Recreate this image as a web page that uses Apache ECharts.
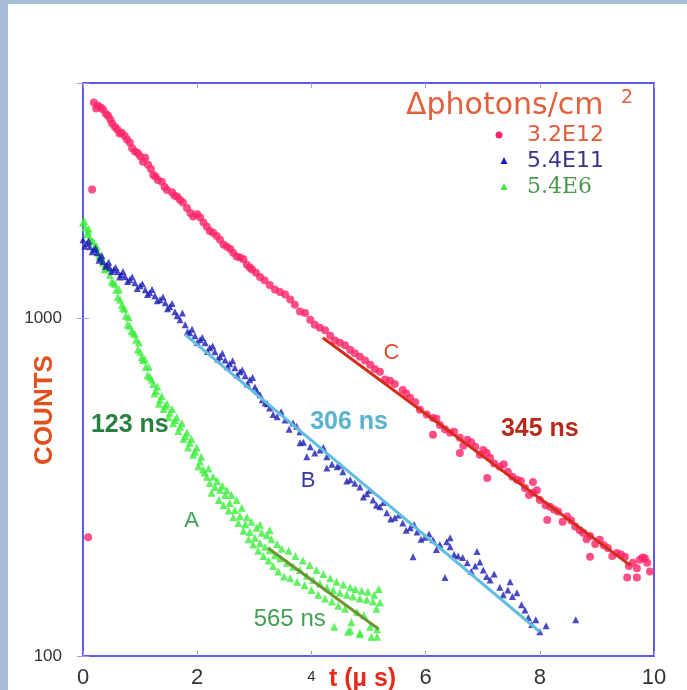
<!DOCTYPE html>
<html><head><meta charset="utf-8">
<script src="https://cdn.jsdelivr.net/npm/echarts@6/dist/echarts.min.js"></script>
<style>
html,body{margin:0;padding:0;background:#a7bcd7;overflow:hidden;}
#c{position:absolute;left:8px;top:4px;width:679px;height:686px;background:#ffffff;}
</style>
</head><body><div id="c"></div>
<script>
// ---- data ----
const xTicks = [0, 2, 4, 6, 8, 10];
const yTickLabels = [100, 1000];
const legendNames = ['3.2E12', '5.4E11', '5.4E6'];
const legendTitle = '\u0394photons/cm';

// series C (3.2E12) : [t, counts]
const seriesC = [
[0.19,4380],[0.26,4290],[0.35,4170],[0.44,4000],[0.51,3790],[0.60,3640],[0.68,3560],[0.77,3400],[0.82,3330],[0.91,3130],
[1.00,3030],[1.09,3000],[1.14,2860],[1.23,2670],[1.31,2580],[1.38,2550],[1.47,2410],[1.56,2370],[1.65,2300],[1.70,2250],
[1.82,2130],[1.93,2010],[2.05,2000],[2.17,1875],[2.28,1800],[2.40,1715],[2.52,1635],[2.63,1570],[2.75,1520],[2.87,1445],
[2.96,1400],[3.10,1330],[3.27,1260],[3.45,1200],[3.63,1140],[3.80,1050],[3.98,993],[4.15,940],[4.33,891],[4.50,849],
[4.68,809],[4.85,771],[5.03,730],[5.20,696],[5.38,655],[5.60,615],[5.73,583],[5.90,537],[6.13,508],[6.25,484],
[6.43,459],[6.60,444],[6.73,438],[6.87,417],[7.01,408],[7.13,387],[7.30,364],[7.44,352],[7.60,333],[7.74,315],
[7.88,305],[8.00,290],[8.18,277],[8.32,268],[8.48,259],[8.62,242],[8.76,232],[8.88,227],[9.05,221],[9.19,209],
[9.35,202],[9.49,197],[9.63,189],[9.75,193],[9.88,189],[9.93,178],
[0.23,4200],[0.31,4230],[0.40,4050],[0.48,3900],[0.56,3700],[0.64,3540],[0.73,3480],[0.86,3200],[0.96,3100],[1.05,2920],
[1.19,2780],[1.27,2640],[1.43,2460],[1.60,2320],[1.75,2210],[1.88,2060],[2.00,2040],[2.11,1930],[2.22,1820],[2.34,1760],
[2.46,1660],[2.58,1610],[2.69,1530],[2.81,1500],[2.92,1420],[3.03,1370],[3.18,1300],[3.36,1220],[3.54,1180],[3.71,1100],
[3.89,1040],[4.06,960],[4.24,925],[4.41,862],[4.59,835],[4.76,790],[4.94,752],[5.11,710],[5.29,660],[5.46,640],
[5.66,600],[5.82,565],[6.02,520],[6.19,505],[6.34,470],[6.50,462],[6.66,420],[6.80,430],[6.95,395],[7.07,400],
[7.20,372],[7.37,370],[7.52,340],[7.67,330],[7.81,300],[7.95,310],[8.10,280],[8.25,272],[8.40,250],[8.55,252],
[8.70,236],[8.82,222],[8.97,215],[9.12,213],[9.27,198],[9.42,200],[9.56,185],[9.70,182],[9.80,196],
[6.13,453],[6.60,400],[7.08,337],[7.88,328],[8.13,253],[8.88,197],[9.53,171],[9.70,171],[9.84,195],
[0.16,2415],[0.09,225]
];

// series B (5.4E11)
const seriesB = [
[0.00,1716],[0.07,1670],[0.12,1636],[0.19,1603],[0.25,1570],[0.30,1517],[0.35,1477],[0.42,1446],[0.47,1417],[0.54,1398],
[0.61,1379],[0.67,1351],[0.74,1332],[0.82,1305],[0.91,1279],[1.00,1253],[1.09,1219],[1.17,1195],[1.26,1170],[1.35,1139],
[1.44,1116],[1.52,1085],[1.61,1049],[1.70,993],[1.79,960],[1.87,909],[1.96,890],[2.05,866],[2.14,849],[2.22,820],
[2.31,798],[2.40,771],[2.49,755],[2.57,735],[2.66,715],[2.75,696],[2.84,677],[2.92,659],[3.01,628],[3.10,595],
[3.19,563],[3.27,544],[3.40,512],[3.54,501],[3.68,491],[3.80,462],[3.80,429],[3.98,417],[4.15,408],[4.27,390],
[4.45,364],[4.55,352],[4.68,333],[4.85,317],[4.97,303],[5.08,290],[5.20,277],[5.32,266],[5.46,257],[5.60,248],
[5.73,240],[5.85,233],[5.99,225],[6.13,221],[6.25,214],[6.43,211],[6.57,198],[6.73,189],[6.87,185],[7.01,180],
[7.13,168],[7.30,160],[7.44,157],[7.60,154],[7.74,137],[7.86,124],[8.00,118],[8.11,123],[8.63,128],
[3.92,390],[4.27,361],[5.78,197],[6.43,224],[6.90,204],[7.48,166],[6.34,171],
[0.03,1640],[0.10,1700],[0.16,1580],[0.22,1620],[0.28,1490],[0.33,1540],[0.39,1430],[0.45,1470],[0.50,1380],[0.57,1420],
[0.64,1330],[0.70,1380],[0.78,1290],[0.86,1330],[0.95,1230],[1.04,1270],[1.13,1180],[1.21,1220],[1.30,1130],[1.40,1160],
[1.48,1070],[1.56,1110],[1.65,1020],[1.74,1040],[1.83,915],[1.91,930],[2.00,850],[2.09,880],[2.18,800],[2.27,830],
[2.36,760],[2.44,790],[2.53,720],[2.62,750],[2.70,680],[2.79,705],[2.88,640],[2.97,670],[3.05,610],[3.14,575],
[3.23,560],[3.33,520],[3.47,530],[3.61,470],[3.74,480],[3.86,430],[4.06,400],[4.21,415],[4.36,370],[4.50,368],
[4.62,330],[4.76,325],[4.91,296],[5.02,310],[5.14,280],[5.26,285],[5.39,255],[5.53,262],[5.66,236],[5.80,245],
[5.92,222],[6.06,230],[6.19,207],[6.37,218],[6.50,200],[6.65,196],[6.80,178],[6.95,190],[7.07,172],[7.20,175],
[7.36,152],[7.52,150],[7.68,142],[7.80,130],[7.93,128]
];

// series A (5.4E6)
const seriesA = [
[0.00,1927],[0.04,1862],[0.09,1813],[0.12,1739],[0.18,1692],[0.21,1636],[0.26,1581],[0.30,1528],[0.35,1466],[0.40,1417],
[0.47,1351],[0.53,1279],[0.58,1219],[0.65,1139],[0.70,1078],[0.75,1021],[0.82,953],[0.88,909],[0.93,866],[1.00,798],
[1.05,755],[1.10,720],[1.17,673],[1.23,641],[1.28,611],[1.35,575],[1.44,552],[1.52,526],[1.61,501],[1.70,478],
[1.79,449],[1.87,429],[1.96,403],[2.05,377],[2.10,357],[2.17,340],[2.22,326],[2.31,317],[2.40,311],[2.49,300],
[2.57,284],[2.66,271],[2.75,260],[2.84,246],[2.92,233],[3.01,224],[3.10,216],[3.19,211],[3.27,206],[3.36,199],
[3.45,195],[3.57,189],[3.68,184],[3.80,180],[3.92,173],[4.03,168],[4.15,164],[4.27,160],[4.38,157],[4.50,154],
[4.62,152],[4.73,150],[4.85,148],[4.97,147],[5.08,145],[5.20,144],
[0.02,1950],[0.07,1780],[0.10,1850],[0.15,1700],[0.24,1640],[0.28,1540],[0.33,1520],[0.38,1400],[0.44,1410],[0.50,1290],
[0.56,1270],[0.61,1160],[0.63,1220],[0.68,1100],[0.73,1070],[0.78,960],[0.80,1010],[0.85,920],[0.91,900],[0.96,810],
[0.98,850],[1.03,770],[1.08,760],[1.13,680],[1.15,720],[1.20,660],[1.25,600],[1.30,630],[1.33,560],[1.38,590],
[1.41,540],[1.47,560],[1.50,510],[1.56,540],[1.58,490],[1.64,510],[1.67,465],[1.73,490],[1.76,440],[1.82,460],
[1.84,415],[1.90,440],[1.93,395],[1.99,415],[2.02,365],[2.07,390],[2.13,350],[2.20,360],[2.25,305],[2.28,340],
[2.35,330],[2.38,290],[2.44,320],[2.46,280],[2.52,310],[2.55,270],[2.60,300],[2.63,258],[2.69,290],[2.72,248],
[2.78,275],[2.81,235],[2.87,258],[2.90,222],[2.95,250],[2.98,214],[3.04,240],[3.07,205],[3.13,232],[3.16,198],
[3.22,228],[3.25,192],[3.30,222],[3.33,185],[3.40,215],[3.42,178],[3.48,208],[3.52,172],[3.60,205],[3.63,170],
[3.72,198],[3.75,166],[3.85,192],[3.88,162],[3.97,186],[4.00,157],[4.09,180],[4.12,152],[4.21,175],[4.24,148],
[4.33,170],[4.36,145],[4.44,166],[4.47,141],[4.56,163],[4.59,138],[4.68,160],[4.70,126],[4.77,158],[4.80,135],
[4.88,156],[4.92,132],[4.99,155],[5.03,122],[5.10,152],[5.14,138],[5.18,158],[4.64,118],[4.85,116],[5.05,114],
[4.40,122],[5.15,120],[4.68,119],[5.15,114],[4.85,117],[3.10,245],[3.27,236]
];

// exponential fit segments
const fitC = [[4.2,878],[9.58,186]];
const fitB = [[1.79,897],[8.0,118]];
const fitA = [[3.24,209],[5.18,120]];

// annotations
const notes = [
  {text:'C', t:5.4, v:790, color:'#e24a32', size:22, weight:'normal'},
  {text:'345 ns', t:8.0, v:470, color:'#b82a1c', size:25, weight:'bold'},
  {text:'306 ns', t:4.66, v:495, color:'#58b2d2', size:25, weight:'bold'},
  {text:'B', t:3.94, v:330, color:'#3a3a9c', size:22, weight:'normal'},
  {text:'123 ns', t:0.82, v:485, color:'#2a8040', size:25, weight:'bold'},
  {text:'A', t:1.9, v:252, color:'#42a052', size:22, weight:'normal'},
  {text:'565 ns', t:3.62, v:128, color:'#42a052', size:24, weight:'normal'}
];

// ---- chart ----
const OX = 8, OY = 4; // container offset on the page
const chart = echarts.init(document.getElementById('c'), null, {renderer:'canvas'});
const AX = '#5a5ae6';
const gridL = 83-OX, gridT = 83-OY, gridW = 571, gridH = 573;

function fmtX(v){ return v === 4 ? '{s|4}' : '{n|' + v + '}'; }
function fmtY(v){
  for (const t of yTickLabels) if (Math.abs(v - t) < 1e-6 * t) return String(t);
  return '';
}

const option = {
  animation:false,
  grid:{left:gridL, top:gridT, width:gridW, height:gridH, show:true, borderColor:AX, borderWidth:2, backgroundColor:'transparent'},
  xAxis:[{
    type:'value', min:xTicks[0], max:xTicks[xTicks.length-1], interval:2, position:'bottom',
    axisLine:{show:true, lineStyle:{color:AX, width:2}},
    axisTick:{show:true, inside:true, length:5, lineStyle:{color:'#9c9cf0', width:1}},
    splitLine:{show:false},
    axisLabel:{margin:11, formatter:fmtX, color:'#333',
      rich:{n:{fontSize:22, color:'#333', fontFamily:'Liberation Sans, Arial, sans-serif'},
            s:{fontSize:15, color:'#333', fontFamily:'Liberation Sans, Arial, sans-serif', padding:[2,0,0,0]}}}
  },{
    type:'value', min:xTicks[0], max:xTicks[xTicks.length-1], interval:2, position:'top',
    axisLine:{show:true, lineStyle:{color:AX, width:2}},
    axisTick:{show:true, inside:true, length:5, lineStyle:{color:'#9c9cf0', width:1}},
    splitLine:{show:false}, axisLabel:{show:false}
  }],
  yAxis:[{
    type:'log', logBase:10, min:100, max:5000, position:'left',
    axisLine:{show:true, lineStyle:{color:AX, width:2}},
    axisTick:{show:true, inside:true, length:6, lineStyle:{color:'#9c9cf0', width:1}},
    minorTick:{show:false}, splitLine:{show:false},
    axisLabel:{margin:21, formatter:fmtY, color:'#333', fontSize:17,
      fontFamily:'Liberation Sans, Arial, sans-serif', padding:[0,0,8,0]}
  },{
    type:'log', logBase:10, min:100, max:5000, position:'right',
    axisLine:{show:true, lineStyle:{color:AX, width:2}},
    axisTick:{show:true, inside:true, length:6, lineStyle:{color:'#9c9cf0', width:1}},
    splitLine:{show:false}, axisLabel:{show:false}
  }],
  series:[
    {name:legendNames[2], type:'scatter', data:seriesA, symbol:'triangle', symbolSize:8,
     itemStyle:{color:'#3ced3c'}, z:2},
    {name:legendNames[1], type:'scatter', data:seriesB, symbol:'triangle', symbolSize:7,
     itemStyle:{color:'#1c1cb4'}, z:3},
    {name:legendNames[0], type:'scatter', data:seriesC, symbol:'circle', symbolSize:8,
     itemStyle:{color:'#ff2468'}, z:4},
    {type:'line', data:fitA, symbol:'none', lineStyle:{color:'#6e9433', width:3}, z:6, silent:true},
    {type:'line', data:fitB, symbol:'none', lineStyle:{color:'#62bde0', width:3}, z:6, silent:true},
    {type:'line', data:fitC, symbol:'none', lineStyle:{color:'#d42c18', width:3}, z:6, silent:true}
  ]
};
chart.setOption(option);

// texts and legend
const g = [];
function P(x, y){ return [x-OX, y-OY]; }
g.push({type:'text', x:P(45,410)[0], y:P(45,410)[1], rotation:Math.PI/2,
  style:{text:'COUNTS', x:0, y:0, fill:'#e2501e', fontSize:26, fontWeight:'bold',
         fontFamily:'Liberation Sans, Arial, sans-serif', align:'center', verticalAlign:'middle'}, z:10});
g.push({type:'text', style:{text:'t (\u00b5 s)', x:P(329,679)[0], y:P(329,679)[1], fill:'#e42c1c',
  fontSize:25, fontWeight:'bold', fontFamily:'Liberation Sans, Arial, sans-serif', align:'left', verticalAlign:'middle'}, z:10});
g.push({type:'text', style:{text:legendTitle, x:P(406,106)[0], y:P(406,106)[1], fill:'#e2603c',
  fontSize:30, fontFamily:'DejaVu Sans, sans-serif', align:'left', verticalAlign:'middle'}, z:10});
g.push({type:'text', style:{text:'2', x:P(621,98)[0], y:P(621,98)[1], fill:'#e2603c',
  fontSize:19, fontFamily:'DejaVu Sans, sans-serif', align:'left', verticalAlign:'middle'}, z:10});
const legRows = [
  {y:135, color:'#ff2468', sym:'circle', tcolor:'#e25a3a', font:'DejaVu Sans, sans-serif'},
  {y:161, color:'#1c1cb4', sym:'tri', tcolor:'#36368c', font:'DejaVu Sans, sans-serif'},
  {y:187, color:'#3ced3c', sym:'tri', tcolor:'#4a9a4a', font:'DejaVu Serif, serif'}
];
legRows.forEach((r, i) => {
  const mx = i === 0 ? 499 : 504;
  const [cx, cy] = P(mx, r.y);
  if (r.sym === 'circle') {
    g.push({type:'circle', shape:{cx:cx, cy:cy, r:3.5}, style:{fill:r.color}, z:10});
  } else {
    g.push({type:'polygon', shape:{points:[[cx, cy-4],[cx+3.5, cy+3],[cx-3.5, cy+3]]}, style:{fill:r.color}, z:10});
  }
  const [tx, ty] = P(527, r.y);
  g.push({type:'text', style:{text:legendNames[i], x:tx, y:ty, fill:r.tcolor, fontSize:22,
    fontFamily:r.font, align:'left', verticalAlign:'middle'}, z:10});
});
notes.forEach(n => {
  const p = chart.convertToPixel({xAxisIndex:0, yAxisIndex:0}, [n.t, n.v]);
  g.push({type:'text', style:{text:n.text, x:p[0], y:p[1], fill:n.color, fontSize:n.size, fontWeight:n.weight,
    fontFamily:'Liberation Sans, Arial, sans-serif', align:'center', verticalAlign:'middle'}, z:10});
});
chart.setOption({graphic:{elements:g}});
</script>
</body></html>
